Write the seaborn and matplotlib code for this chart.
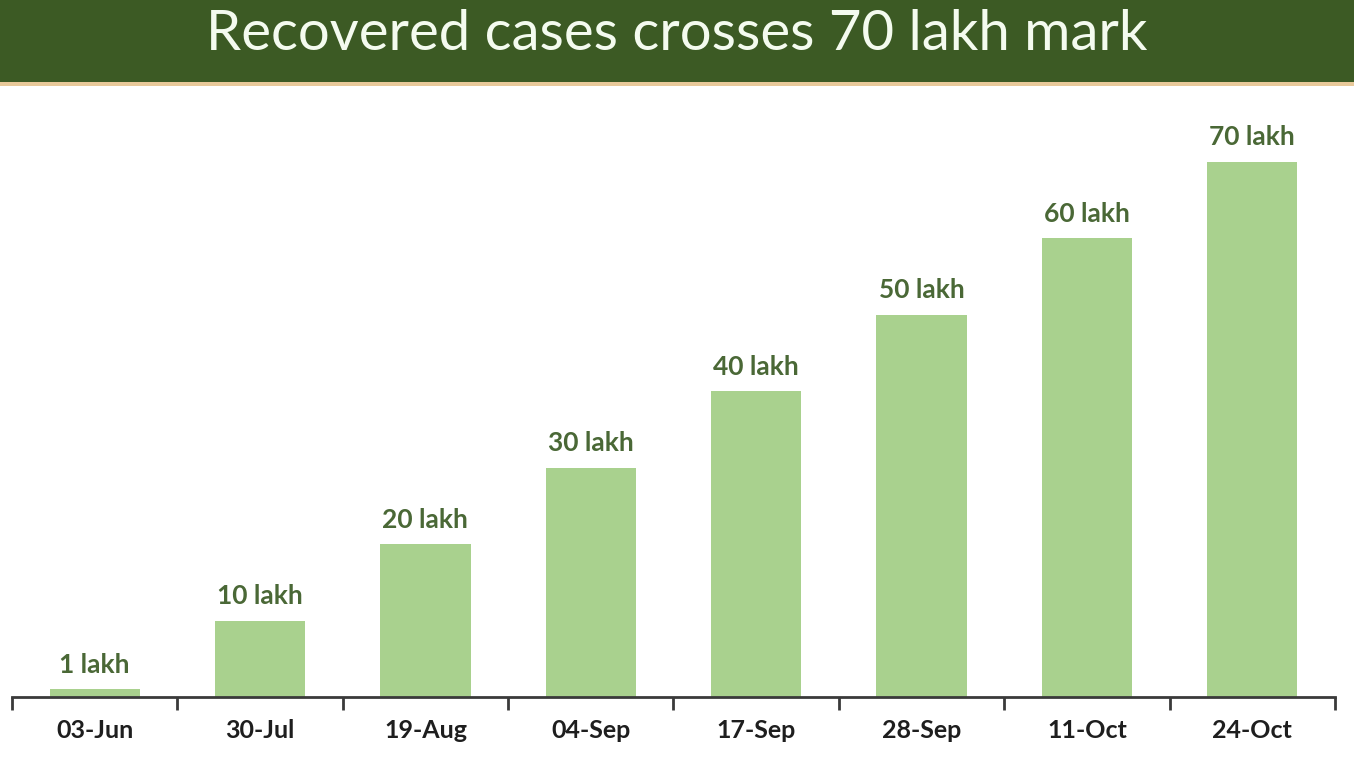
import matplotlib
matplotlib.use("Agg")
import matplotlib.pyplot as plt
import seaborn as sns
import pandas as pd
import numpy as np
from matplotlib.patches import Rectangle

dates = ["03-Jun", "30-Jul", "19-Aug", "04-Sep", "17-Sep", "28-Sep", "11-Oct", "24-Oct"]
recovered_lakh = [1, 10, 20, 30, 40, 50, 60, 70]
value_labels = ["1 lakh", "10 lakh", "20 lakh", "30 lakh", "40 lakh", "50 lakh", "60 lakh", "70 lakh"]
title = "Recovered cases crosses 70 lakh mark"

sns.set_theme(style="white")
plt.rcParams['font.family'] = ['Lato', 'DejaVu Sans']

W, H = 1354, 778
fig = plt.figure(figsize=(W / 100, H / 100), dpi=100)
fig.patch.set_facecolor("white")

# title banner
fig.patches.append(Rectangle((0, 1 - 82 / H), 1, 82 / H, transform=fig.transFigure,
                             facecolor="#3c5a24", edgecolor="none", zorder=0))
fig.patches.append(Rectangle((0, 1 - 86 / H), 1, 4 / H, transform=fig.transFigure,
                             facecolor="#e8c99a", edgecolor="none", zorder=0))
fig.text(0.5, 1 - 35 / H, title, ha="center", va="center", color="#f4fbef",
         fontsize=40.5, family=["Lato", "DejaVu Sans"])

ax = fig.add_axes([12 / W, (H - 697) / H, 1323 / W, 597 / H])
df = pd.DataFrame({"date": dates, "value": recovered_lakh})
sns.barplot(data=df, x="date", y="value", color="#a9d18e", saturation=1,
            width=0.545, ax=ax)
for p in ax.patches:
    p.set_edgecolor("none")

ax.set_xlim(-0.5, len(dates) - 0.5)
ax.set_ylim(0, 78.1)
ax.bar_label(ax.containers[0], labels=value_labels, padding=9, color="#4a6836",
             fontsize=19, fontweight="bold")

ax.set_xlabel("")
ax.set_ylabel("")
ax.set_yticks([])
for s in ["left", "top", "right"]:
    ax.spines[s].set_visible(False)
ax.spines["bottom"].set_color("#3a3a3a")
ax.spines["bottom"].set_linewidth(2)

ax.set_xticks(np.arange(len(dates)))
ax.set_xticklabels(dates, fontsize=18, fontweight="bold", color="#1e1e1e")
ax.tick_params(axis="x", which="major", length=0, pad=16)
ax.set_xticks(np.arange(-0.5, len(dates)), minor=True)
ax.tick_params(axis="x", which="minor", length=9, width=2, color="#3a3a3a", direction="out", bottom=True)

fig.savefig("out.png", dpi=100, facecolor="white")
